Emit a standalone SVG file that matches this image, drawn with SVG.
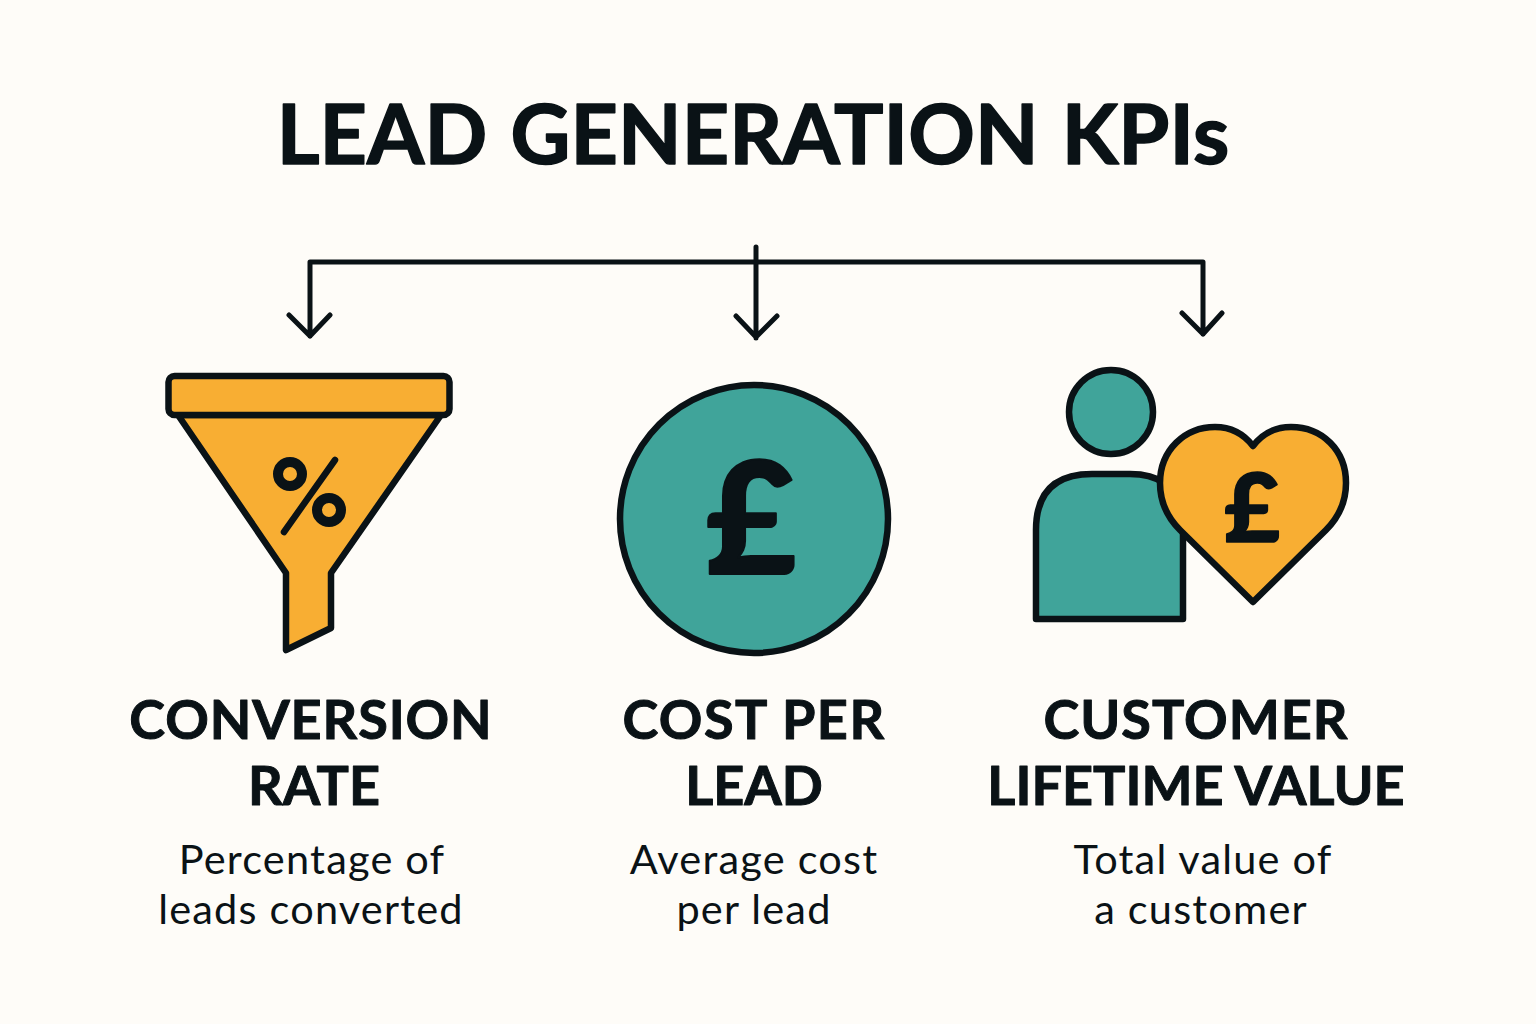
<svg xmlns="http://www.w3.org/2000/svg" width="1536" height="1024" viewBox="0 0 1536 1024">
<style>
.t{font-family:"Lato","Noto Sans",sans-serif;fill:#0a1216;text-anchor:middle}
.h{font-size:54px;font-weight:700;stroke:#0a1216;stroke-width:1;stroke-linejoin:round}
.d{font-size:41.5px;font-weight:400;letter-spacing:1.2px}
.s{stroke:#0a1216;stroke-width:6.5;stroke-linejoin:round;stroke-linecap:round}
.o{fill:#f8ae33}.g{fill:#40a49a}
.c{fill:none;stroke:#0a1216;stroke-width:5;stroke-linecap:round;stroke-linejoin:round}
.r{fill:none;stroke:#0a1216;stroke-width:10}
.p{stroke:#0a1216;stroke-linejoin:round;font-weight:900}
</style>
<rect width="1536" height="1024" fill="#fefcf8"/>
<text id="title" class="t" x="753" y="164" font-size="82.5" font-weight="700" stroke="#0a1216" stroke-width="1.5" stroke-linejoin="round" letter-spacing="0.1" word-spacing="3">LEAD GENERATION KPIs</text>
<g id="connectors">
<path class="c" d="M310 336V262H1203V334M756 247V338M289 315L310 336L330 315M736 316L756 337L777 316M1182 313L1203 334L1222 313"/>
</g>
<g id="node1">
<path class="s o" d="M178 415H441L331 573V628L286 650V573Z"/>
<rect class="s o" x="168.5" y="376" width="281" height="39" rx="6"/>
<circle class="r" cx="290" cy="474" r="12"/>
<circle class="r" cx="329" cy="510" r="12"/>
<path class="s" fill="none" stroke-width="7" d="M335 460L284 532"/>
<text class="t h" x="311" y="739" letter-spacing="0.9">CONVERSION</text>
<text class="t h" x="314" y="805">RATE</text>
<text class="t d" x="312" y="874">Percentage of</text>
<text class="t d" x="311" y="924">leads converted</text>
</g>
<g id="node2">
<circle class="s g" cx="754" cy="519" r="134"/>
<text class="t p" x="751" y="574" font-size="156" stroke-width="2">£</text>
<text class="t h" x="754" y="739" letter-spacing="1.5">COST PER</text>
<text class="t h" x="754" y="805">LEAD</text>
<text class="t d" x="754" y="874">Average cost</text>
<text class="t d" x="754" y="924">per lead</text>
</g>
<g id="node3">
<circle class="s g" cx="1111" cy="412" r="42"/>
<path class="s g" d="M1036 619V530Q1036 474 1092 474H1130Q1183 474 1183 530V619Z"/>
<path class="s o" d="M1253 602L1180 530C1165 515 1160 500 1160 483C1160 450 1185 427 1215 427C1230 427 1243 433 1253 446C1263 433 1276 427 1291 427C1322 427 1346 450 1346 483C1346 500 1341 515 1326 530Z"/>
<text class="t p" x="1252" y="542" font-size="96" stroke-width="1.5">£</text>
<text class="t h" x="1196" y="739" letter-spacing="1">CUSTOMER</text>
<text class="t h" x="1196" y="805">LIFETIME VALUE</text>
<text class="t d" x="1203" y="874">Total value of</text>
<text class="t d" x="1201" y="924">a customer</text>
</g>
</svg>
